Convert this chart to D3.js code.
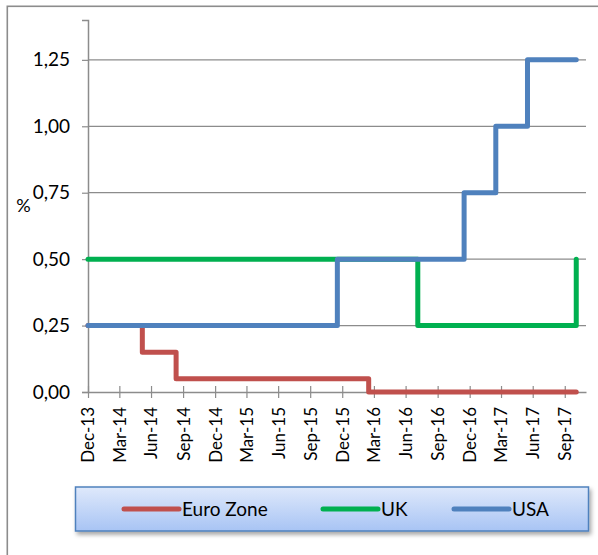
<!DOCTYPE html>
<html>
<head>
<meta charset="utf-8">
<script src="https://cdn.jsdelivr.net/npm/d3@7"></script>
<style>
  html, body { margin: 0; padding: 0; background: #fff; }
  svg { display: block; font-family: Lato, 'Open Sans', sans-serif; }
</style>
</head>
<body>
<div id="chart"></div>
<script>
// step change dates (rate in force from that date on) and the rates
const euroDates = ['2013-12-31', '2014-06-05', '2014-09-10', '2016-03-16', '2017-11-02'];
const euroRates = [0.25, 0.15, 0.05, 0.00, 0.00];
const ukDates = ['2013-12-31', '2016-08-04', '2017-11-02'];
const ukRates = [0.50, 0.25, 0.50];
const usaDates = ['2013-12-31', '2015-12-17', '2016-12-15', '2017-03-16', '2017-06-15', '2017-11-02'];
const usaRates = [0.25, 0.50, 0.75, 1.00, 1.25, 1.25];

const seriesNames = ['Euro Zone', 'UK', 'USA'];
const seriesColors = ['#c0504d', '#00b050', '#4f81bd'];
const yTicks = [0, 0.25, 0.5, 0.75, 1.0, 1.25];
const xDomain = ['2013-12-31', '2017-11-30'];

const width = 598, height = 555;
const margin = { left: 88, right: 12, top: 20, bottom: 163 };
const parse = d3.timeParse('%Y-%m-%d');

const series = [
  { name: seriesNames[0], color: seriesColors[0], values: euroDates.map((d, i) => ({ date: parse(d), v: euroRates[i] })) },
  { name: seriesNames[1], color: seriesColors[1], values: ukDates.map((d, i) => ({ date: parse(d), v: ukRates[i] })) },
  { name: seriesNames[2], color: seriesColors[2], values: usaDates.map((d, i) => ({ date: parse(d), v: usaRates[i] })) }
];

const svg = d3.select('#chart').append('svg')
  .attr('width', width)
  .attr('height', height);

// outer chart frame (runs off the right and bottom edges)
svg.append('rect')
  .attr('x', 7.3).attr('y', 6.3)
  .attr('width', width + 20).attr('height', height + 20)
  .attr('fill', '#fff')
  .attr('stroke', '#8c8c8c')
  .attr('stroke-width', 1.6);

const x = d3.scaleTime()
  .domain(xDomain.map(parse))
  .range([margin.left, width - margin.right]);

const y = d3.scaleLinear()
  .domain([0, 1.4])
  .range([height - margin.bottom, margin.top]);

const fmtComma = d => d3.format('.2f')(d).replace('.', ',');

// horizontal gridlines
svg.append('g')
  .selectAll('line')
  .data(yTicks.filter(d => d > 0))
  .enter()
  .append('line')
  .attr('x1', margin.left).attr('x2', width - margin.right)
  .attr('y1', d => y(d)).attr('y2', d => y(d))
  .attr('stroke', '#8c8c8c')
  .attr('stroke-width', 1.2);

// y axis
const yAxis = svg.append('g')
  .attr('transform', `translate(${margin.left},0)`)
  .call(d3.axisLeft(y).tickValues(yTicks).tickFormat(fmtComma).tickSize(6).tickPadding(12));
yAxis.select('.domain').attr('stroke', '#8c8c8c').attr('stroke-width', 1.5);
yAxis.selectAll('.tick line').attr('stroke', '#8c8c8c').attr('stroke-width', 1.2);
yAxis.selectAll('.tick text')
  .attr('font-size', 19)
  .attr('fill', '#000')
  .style('font-family', 'Lato, sans-serif');

// x axis: quarter ends
const xTicks = d3.timeMonth.every(3)
  .range(new Date(2014, 0, 1), new Date(2017, 9, 2))
  .map(d => d3.timeDay.offset(d, -1));

const xAxis = svg.append('g')
  .attr('transform', `translate(0,${y(0)})`)
  .call(d3.axisBottom(x).tickValues(xTicks).tickFormat(d3.timeFormat('%b-%y')).tickSize(6).tickSizeOuter(0));
xAxis.select('.domain').attr('stroke', '#8c8c8c').attr('stroke-width', 1.5);
xAxis.selectAll('.tick line')
  .attr('y1', -6).attr('y2', 6)
  .attr('stroke', '#8c8c8c').attr('stroke-width', 1.2);
xAxis.selectAll('.tick text')
  .attr('font-size', 17)
  .attr('fill', '#000')
  .style('font-family', 'Lato, sans-serif')
  .attr('text-anchor', 'end')
  .attr('transform', 'rotate(-90)')
  .attr('x', -15)
  .attr('y', 0)
  .attr('dy', '0.35em');

// axis title
svg.append('text')
  .attr('x', 23.5)
  .attr('y', 206)
  .attr('text-anchor', 'middle')
  .attr('dy', '0.35em')
  .attr('font-size', 18)
  .text('%');

// series as step lines
const line = d3.line()
  .curve(d3.curveStepAfter)
  .x(d => x(d.date))
  .y(d => y(d.v));

svg.append('g')
  .selectAll('path')
  .data(series)
  .enter()
  .append('path')
  .attr('d', d => line(d.values))
  .attr('fill', 'none')
  .attr('stroke', d => d.color)
  .attr('stroke-width', 5)
  .attr('stroke-linejoin', 'round')
  .attr('stroke-linecap', 'round');

// legend
const defs = svg.append('defs');
const grad = defs.append('linearGradient')
  .attr('id', 'legend-fill')
  .attr('x1', 0).attr('y1', 0).attr('x2', 0).attr('y2', 1);
grad.append('stop').attr('offset', '0%').attr('stop-color', '#dfe9fb');
grad.append('stop').attr('offset', '100%').attr('stop-color', '#a8c4f4');

const shadow = defs.append('filter')
  .attr('id', 'legend-shadow')
  .attr('x', '-5%').attr('y', '-20%')
  .attr('width', '115%').attr('height', '160%');
shadow.append('feDropShadow')
  .attr('dx', 2).attr('dy', 3)
  .attr('stdDeviation', 2)
  .attr('flood-color', '#000')
  .attr('flood-opacity', 0.35);

const legend = svg.append('g');
legend.append('rect')
  .attr('x', 75.5).attr('y', 487)
  .attr('width', 513).attr('height', 44)
  .attr('fill', 'url(#legend-fill)')
  .attr('stroke', '#4f81bd')
  .attr('stroke-width', 1.5)
  .style('filter', 'url(#legend-shadow)');

const legendX = [124, 323, 454];
const item = legend.selectAll('g.item')
  .data(series)
  .enter()
  .append('g')
  .attr('class', 'item')
  .attr('transform', (d, i) => `translate(${legendX[i]},509)`);

item.append('line')
  .attr('x1', 0).attr('x2', 55)
  .attr('stroke', d => d.color)
  .attr('stroke-width', 5)
  .attr('stroke-linecap', 'round');

item.append('text')
  .attr('x', 58)
  .attr('dy', '0.36em')
  .attr('font-size', 19)
  .text(d => d.name);
</script>
</body>
</html>
